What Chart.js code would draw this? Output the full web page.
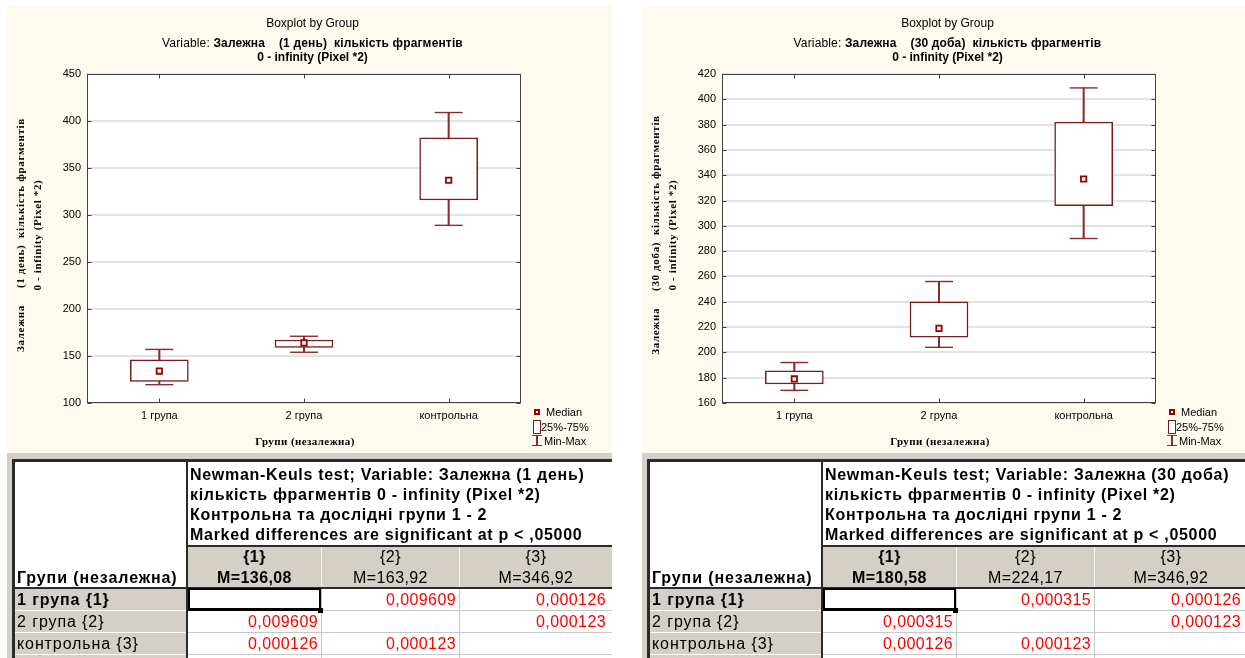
<!DOCTYPE html>
<html>
<head>
<meta charset="utf-8">
<script src="https://cdn.jsdelivr.net/npm/chart.js@4.4.1/dist/chart.umd.min.js"></script>
<style>
  html, body { margin: 0; padding: 0; background: #fff; }
  body { width: 1245px; height: 658px; overflow: hidden; position: relative; font-family: 'Liberation Sans', Arial, sans-serif; }
  .panel { position: absolute; top: 5px; width: 605px; height: 448px; background: #fffaee; }
  .panel canvas { position: absolute; left: 0; top: 0; }
  .txt { position: absolute; white-space: pre; color: #000; line-height: 14px; }
  .ttl { left: 3px; width: 605px; text-align: center; font-size: 12px; }
  .axt { font-family: 'Liberation Serif', 'Times New Roman', serif; font-weight: bold; font-size: 11px; }
  .leg { font-size: 11px; }
  .mark { position: absolute; box-sizing: border-box; }
  .grid { position: absolute; top: 453px; width: 605px; height: 210px; background: #d4d0c8; overflow: hidden; }
  .cell { position: absolute; box-sizing: border-box; display: flex; align-items: center; white-space: pre; overflow: hidden;
          font-size: 16px; color: #000; padding: 0 2px; letter-spacing: 0.4px; }
  .rowhead { letter-spacing: 0.9px; }
  .bar { position: absolute; }
</style>
</head>
<body>
<script>
// Groups compared in both experiments
const groups = ['1 група', '2 група', 'контрольна'];
const rowLabels = ['1 група {1}', '2 група {2}', 'контрольна {3}'];
const colKeys = ['{1}', '{2}', '{3}'];

// Day 1: fragment count, min / quartiles / median / max per group
const dayMin = [119.5, 154, 289];
const dayQ1 = [123, 159, 316];
const dayMedian = [134, 164, 337];
const dayQ3 = [146, 167, 382];
const dayMax = [157, 171, 409];
const dayMeans = ['136,08', '163,92', '346,92'];
const dayP = [['', '0,009609', '0,000126'], ['0,009609', '', '0,000123'], ['0,000126', '0,000123', '']];
const dayYMin = 100, dayYMax = 450, dayYStep = 50;

// Day 30: fragment count, min / quartiles / median / max per group
const monthMin = [170, 204, 290];
const monthQ1 = [175, 212, 316];
const monthMedian = [179, 219, 337];
const monthQ3 = [185.5, 240, 382];
const monthMax = [192, 256, 409];
const monthMeans = ['180,58', '224,17', '346,92'];
const monthP = [['', '0,000315', '0,000126'], ['0,000315', '', '0,000123'], ['0,000126', '0,000123', '']];
const monthYMin = 160, monthYMax = 420, monthYStep = 20;

const MAROON = '#7a1c1c';
const WHISKER = '#8e2a2a';

// White plot area, frame and inward tick marks on all four sides
const framePlugin = {
  id: 'frame',
  beforeDraw(chart) {
    const { ctx, chartArea: a } = chart;
    ctx.save();
    ctx.fillStyle = '#ffffff';
    ctx.fillRect(a.left, a.top, a.right - a.left, a.bottom - a.top);
    ctx.restore();
  },
  afterDraw(chart) {
    const { ctx, chartArea: a, scales: { x, y } } = chart;
    ctx.save();
    ctx.strokeStyle = '#404040';
    ctx.lineWidth = 1;
    const L = Math.round(a.left) + 0.5, R = Math.round(a.right) - 0.5;
    const T = Math.round(a.top) + 0.5, B = Math.round(a.bottom) - 0.5;
    ctx.strokeRect(L, T, R - L, B - T);
    ctx.beginPath();
    y.ticks.forEach((t, i) => {
      const py = Math.round(y.getPixelForTick(i)) + 0.5;
      ctx.moveTo(L, py); ctx.lineTo(L + 4, py);
      ctx.moveTo(R, py); ctx.lineTo(R - 4, py);
    });
    x.ticks.forEach((t, i) => {
      const px = Math.round(x.getPixelForTick(i)) + 0.5;
      ctx.moveTo(px, T); ctx.lineTo(px, T + 4);
      ctx.moveTo(px, B); ctx.lineTo(px, B - 4);
    });
    ctx.stroke();
    ctx.restore();
  }
};

function boxChart(canvas, lo, q1, med, q3, hi, yMin, yMax, yStep) {
  const font = { family: 'Liberation Sans', size: 11 };
  return new Chart(canvas, {
    type: 'bar',
    data: {
      labels: groups,
      datasets: [
        { type: 'line', data: med, showLine: false, pointStyle: 'rect', pointRadius: 3.8, pointHoverRadius: 3.8,
          pointBackgroundColor: '#ffffff', pointBorderColor: '#9a0000', pointBorderWidth: 1.8, borderColor: '#9a0000', order: 0, clip: false },
        { type: 'line', data: lo, showLine: false, pointStyle: 'line', pointRadius: 14, pointHoverRadius: 14,
          pointBorderColor: WHISKER, pointBorderWidth: 1.4, borderColor: WHISKER, order: 1, clip: false },
        { type: 'line', data: hi, showLine: false, pointStyle: 'line', pointRadius: 14, pointHoverRadius: 14,
          pointBorderColor: WHISKER, pointBorderWidth: 1.4, borderColor: WHISKER, order: 1, clip: false },
        { data: groups.map((_, i) => [q1[i], q3[i]]), backgroundColor: '#ffffff', borderColor: MAROON,
          borderWidth: 1.5, borderSkipped: false, barThickness: 58, grouped: false, order: 2 },
        { data: groups.map((_, i) => [lo[i], q1[i]]), backgroundColor: WHISKER, borderWidth: 0,
          barThickness: 1.4, grouped: false, order: 3 },
        { data: groups.map((_, i) => [q3[i], hi[i]]), backgroundColor: WHISKER, borderWidth: 0,
          barThickness: 1.4, grouped: false, order: 3 }
      ]
    },
    options: {
      responsive: false,
      animation: false,
      devicePixelRatio: 1,
      events: [],
      layout: { padding: { top: 69, right: 91, bottom: 0, left: 0 } },
      plugins: { legend: { display: false }, tooltip: { enabled: false } },
      scales: {
        x: {
          type: 'category', offset: true,
          grid: { display: false, drawTicks: false },
          border: { display: false },
          ticks: { color: '#000', font, padding: 6 },
          afterFit(s) { s.height = 50; }
        },
        y: {
          min: yMin, max: yMax,
          ticks: { stepSize: yStep, color: '#000', font, padding: 6 },
          grid: { color: '#e3e3e3', lineWidth: 2, drawTicks: false },
          border: { display: false },
          afterFit(s) { s.width = 80; }
        }
      }
    },
    plugins: [framePlugin]
  });
}

function el(parent, tag, cls, style, text) {
  const e = document.createElement(tag);
  if (cls) e.className = cls;
  if (style) e.style.cssText = style;
  if (text !== undefined) e.textContent = text;
  parent.appendChild(e);
  return e;
}

function buildPanel(left, period, lo, q1, med, q3, hi, yMin, yMax, yStep) {
  const p = el(document.body, 'div', 'panel', `left:${left}px`);
  const cv = el(p, 'canvas');
  cv.width = 605; cv.height = 448;

  el(p, 'div', 'txt ttl', 'top:11px', 'Boxplot by Group');
  const v = el(p, 'div', 'txt ttl', 'top:31px;letter-spacing:0.15px');
  el(v, 'span', '', '', 'Variable: ');
  el(v, 'b', '', '', `Залежна    ${period}  кількість фрагментів`);
  el(p, 'div', 'txt ttl', 'top:45px;font-weight:bold', '0 - infinity (Pixel *2)');

  // rotated y-axis title (two lines)
  const yt = el(p, 'div', 'txt axt',
    'left:-128px;top:213px;width:300px;height:34px;line-height:17px;text-align:center;letter-spacing:0.65px;transform:rotate(-90deg);transform-origin:150px 17px;');
  yt.textContent = `Залежна     ${period}  кількість фрагментів\n0 - infinity (Pixel *2)`;

  el(p, 'div', 'txt axt', 'left:0;top:429px;width:596px;text-align:center;letter-spacing:0.4px', 'Групи (незалежна)');

  // legend
  el(p, 'div', 'mark', `left:527px;top:404px;width:6px;height:6px;border:2px solid #9a0000;background:#fff`);
  el(p, 'div', 'txt leg', 'left:539px;top:400px', 'Median');
  el(p, 'div', 'mark', `left:526px;top:415px;width:8px;height:14px;border:1px solid ${MAROON};background:#fff`);
  el(p, 'div', 'txt leg', 'left:534px;top:415px', '25%-75%');
  el(p, 'div', 'mark', `left:525px;top:430px;width:10px;height:1.4px;background:${WHISKER}`);
  el(p, 'div', 'mark', `left:529.3px;top:430px;width:1.4px;height:11px;background:${WHISKER}`);
  el(p, 'div', 'mark', `left:525px;top:440px;width:10px;height:1.4px;background:${WHISKER}`);
  el(p, 'div', 'txt leg', 'left:537px;top:429px', 'Min-Max');

  boxChart(cv, lo, q1, med, q3, hi, yMin, yMax, yStep);
}

function buildTable(left, period, means, pvals) {
  const g = el(document.body, 'div', 'grid', `left:${left}px`);
  // coordinates below are relative to the grey frame
  const box = (x, y, w, h, bg) => el(g, 'div', 'bar', `left:${x}px;top:${y}px;width:${w}px;height:${h}px;background:${bg}`);
  const cell = (x, y, w, h, text, style, extra) => el(g, 'div', 'cell' + (extra ? ' ' + extra : ''), `left:${x}px;top:${y}px;width:${w}px;height:${h}px;${style || ''}`, text);

  // sunken outer edge
  box(5, 6, 3, 220, '#2b2b2b');
  box(5, 6, 620, 3, '#2b2b2b');

  // corner cell + title
  cell(8, 9, 171, 126, 'Групи (незалежна)', 'background:#fff;font-weight:bold;align-items:flex-end;padding-bottom:1px', 'rowhead');
  box(179, 9, 2, 220, '#2b2b2b');
  cell(181, 9, 440, 84,
    `Newman-Keuls test; Variable: Залежна ${period}\nкількість фрагментів 0 - infinity (Pixel *2)\nКонтрольна та дослідні групи 1 - 2\nMarked differences are significant at p < ,05000`,
    'background:#fff;font-weight:bold;align-items:flex-start;line-height:20px;padding-top:3px;letter-spacing:0.7px');
  box(181, 92, 440, 2, '#2b2b2b');

  // column headers
  const colX = [181, 315, 453];
  const colW = [133, 137, 150];
  colKeys.forEach((k, i) => {
    cell(colX[i], 94, i === 2 ? 170 : colW[i], 40, `${k}\nM=${means[i]}`,
      `background:#d4d0c8;justify-content:center;text-align:center;line-height:21px;padding:0 ${i === 2 ? 20 : 2}px 0 2px;${i === 0 ? 'font-weight:bold' : ''}`);
    if (i > 0) box(colX[i] - 1, 94, 1, 40, '#f4f4f4');
  });
  box(8, 134, 620, 2, '#2b2b2b');

  // body rows
  const rowY = [136, 158, 180, 202];
  rowLabels.forEach((r, i) => {
    cell(8, rowY[i], 171, 21, r, `background:#d4d0c8;${i === 0 ? 'font-weight:bold' : ''}`, 'rowhead');
    box(8, rowY[i] + 21, 171, 1, '#ffffff');
    for (let j = 0; j < 3; j++) {
      cell(colX[j], rowY[i], j === 2 ? 170 : colW[j], 21, pvals[i][j],
        `background:#fff;color:#ff0000;justify-content:flex-end;padding-right:${j === 2 ? 24 : 3}px`);
      box(colX[j], rowY[i] + 21, 170, 1, '#c8c8c8');
      if (j > 0) box(colX[j] - 1, rowY[i], 1, 22, '#c8c8c8');
    }
  });
  cell(8, 202, 171, 21, '', 'background:#d4d0c8');
  for (let j = 0; j < 3; j++) cell(colX[j], 202, j === 2 ? 170 : colW[j], 21, '', 'background:#fff');
  box(colX[1] - 1, 202, 1, 22, '#c8c8c8');
  box(colX[2] - 1, 202, 1, 22, '#c8c8c8');

  // active cell outline
  el(g, 'div', 'bar', 'left:181px;top:135px;width:133px;height:23px;box-sizing:border-box;border:2px solid #000;border-bottom-width:3px');
  box(311, 155, 5, 5, '#000');
}

buildPanel(7, '(1 день)', dayMin, dayQ1, dayMedian, dayQ3, dayMax, dayYMin, dayYMax, dayYStep);
buildPanel(642, '(30 доба)', monthMin, monthQ1, monthMedian, monthQ3, monthMax, monthYMin, monthYMax, monthYStep);
buildTable(7, '(1 день)', dayMeans, dayP);
buildTable(642, '(30 доба)', monthMeans, monthP);
</script>
</body>
</html>
